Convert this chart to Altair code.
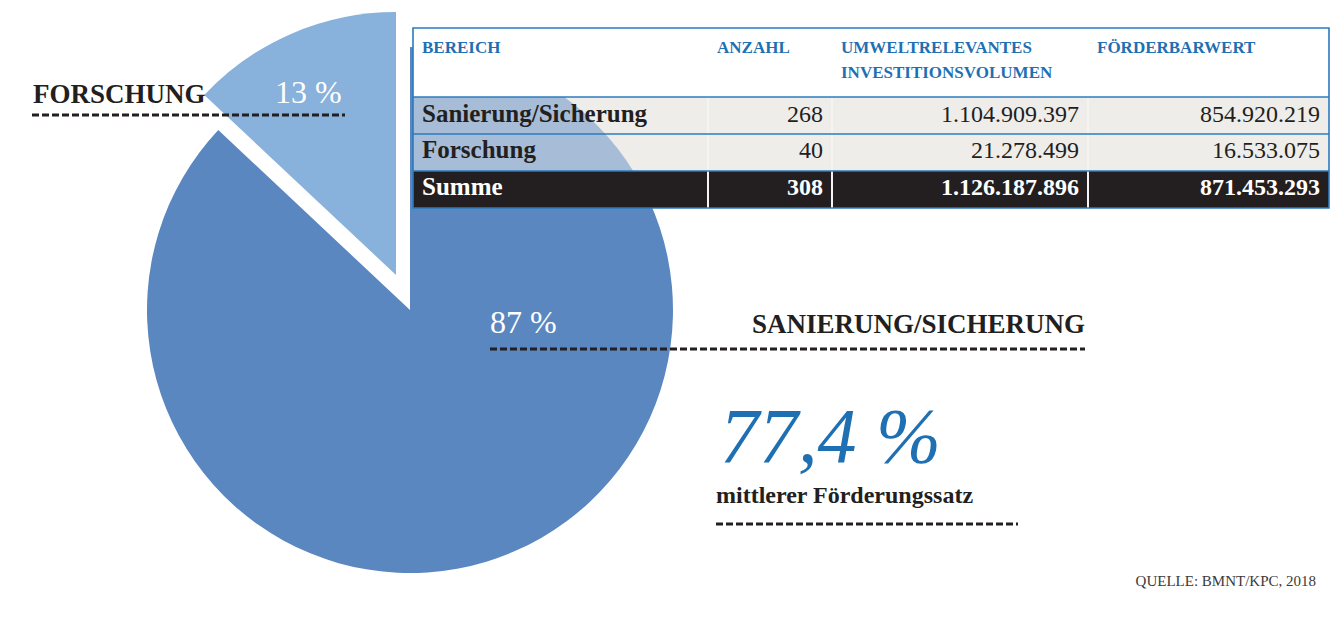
import math
import altair as alt
import pandas as pd

# ---------------- data ----------------
categories = ["Sanierung/Sicherung", "Forschung"]
shares = [87, 13]
anzahl = [268, 40]
investitionsvolumen = [1104909397, 21278499]
foerderbarwert = [854920219, 16533075]
summe_label = "Summe"
summe_values = [308, 1126187896, 871453293]
header_labels = ["BEREICH", "ANZAHL", "UMWELTRELEVANTES\nINVESTITIONSVOLUMEN", "FÖRDERBARWERT"]
share_labels = ["87 %", "13 %"]
kpi_text = "77,4 %"
kpi_caption = "mittlerer Förderungssatz"
source_text = "QUELLE: BMNT/KPC, 2018"

# ---------------- style / layout ----------------
W, H = 1322, 606
FONT = "Liberation Serif"
DARK = "#231F20"
BLUE = "#1F70B2"
BORDER = "#2B7BBE"
PIE_MAIN = "#5A87C0"
PIE_LIGHT = "#88B1DB"
ROW_GRAY = "#EEEDEA"

CX, CY, R = 402, 302, 263
EXPLODE = (-14, -35)

col_edges = [405, 700, 824, 1080, 1321]
row_edges = [20, 89, 126, 163, 200]
PAD = 9


def de(n):
    return f"{n:,}".replace(",", ".")


# ---------------- pie ----------------
pie_df = pd.DataFrame({"cat": categories, "share": shares})
pie_df["end"] = pie_df["share"].cumsum()
pie_df["start"] = pie_df["end"] - pie_df["share"]

theta_scale = alt.Scale(domain=[0, 100], range=[0, 2 * math.pi])
color_scale = alt.Scale(domain=categories, range=[PIE_MAIN, PIE_LIGHT])


def slice_layer(cat, dx, dy):
    return (
        alt.Chart(pie_df[pie_df["cat"] == cat])
        .mark_arc(outerRadius=R, strokeWidth=0)
        .encode(
            theta=alt.Theta("start:Q", scale=theta_scale),
            theta2="end:Q",
            color=alt.Color("cat:N", scale=color_scale, legend=None),
            x=alt.value(CX + dx),
            y=alt.value(CY + dy),
        )
    )


pie_main = slice_layer(categories[0], 0, 0)
pie_expl = slice_layer(categories[1], EXPLODE[0], EXPLODE[1])

# ---------------- table backgrounds ----------------
rows_bg = pd.DataFrame({
    "x": [col_edges[0]] * 2,
    "x2": [col_edges[-1]] * 2,
    "y": row_edges[1:3],
    "y2": row_edges[2:4],
})
XQ = lambda f: alt.X(f, type="quantitative", scale=None, axis=None)
YQ = lambda f: alt.Y(f, type="quantitative", scale=None, axis=None)

rows_under = alt.Chart(rows_bg).mark_rect(color=ROW_GRAY).encode(
    x=XQ("x"), x2="x2", y=YQ("y"), y2="y2")
rows_over = alt.Chart(rows_bg).mark_rect(color=ROW_GRAY, opacity=0.52).encode(
    x=XQ("x"), x2="x2", y=YQ("y"), y2="y2")

header_bg = alt.Chart(pd.DataFrame({"x": [col_edges[0]], "x2": [col_edges[-1]],
                                    "y": [row_edges[0]], "y2": [row_edges[1]]})).mark_rect(color="white").encode(
    x=XQ("x"), x2="x2", y=YQ("y"), y2="y2")
summe_bg = alt.Chart(pd.DataFrame({"x": [col_edges[0]], "x2": [col_edges[-1]],
                                   "y": [row_edges[3]], "y2": [row_edges[4]]})).mark_rect(color=DARK).encode(
    x=XQ("x"), x2="x2", y=YQ("y"), y2="y2")

vsep = pd.DataFrame({"x": col_edges[1:4], "y": [row_edges[1]] * 3, "y2": [row_edges[4]] * 3})
vlines = alt.Chart(vsep).mark_rule(color="#F4F4F2", strokeWidth=2).encode(
    x=XQ("x"), y=YQ("y"), y2="y2")

hsep = pd.DataFrame({"y": row_edges[1:4], "x": [col_edges[0]] * 3, "x2": [col_edges[-1]] * 3})
hlines = alt.Chart(hsep).mark_rule(color=BORDER, strokeWidth=1.5).encode(
    y=YQ("y"), x=XQ("x"), x2="x2")

border = alt.Chart(pd.DataFrame({"x": [col_edges[0]], "x2": [col_edges[-1]],
                                 "y": [row_edges[0]], "y2": [row_edges[-1]]})).mark_rect(
    fill="transparent", stroke=BORDER, strokeWidth=1.6).encode(
    x=XQ("x"), x2="x2", y=YQ("y"), y2="y2")

# ---------------- table texts ----------------
hdr_df = pd.DataFrame({"t": header_labels,
                       "x": [c + PAD for c in col_edges[:4]],
                       "y": [45] * 4})
hdr_text = alt.Chart(hdr_df).mark_text(
    align="left", baseline="alphabetic", font=FONT, fontSize=17, fontWeight="bold",
    color=BLUE, lineBreak="\n", lineHeight=25).encode(
    x=XQ("x"), y=YQ("y"), text="t:N")

row_baselines = [114, 150]
lab_df = pd.DataFrame({"t": categories, "x": [col_edges[0] + PAD] * 2, "y": row_baselines})
lab_text = alt.Chart(lab_df).mark_text(
    align="left", baseline="alphabetic", font=FONT, fontSize=25, fontWeight="bold", color=DARK).encode(
    x=XQ("x"), y=YQ("y"), text="t:N")

num_rows = []
for i in range(2):
    for j, v in enumerate([anzahl[i], investitionsvolumen[i], foerderbarwert[i]]):
        num_rows.append({"t": de(v), "x": col_edges[j + 2] - PAD, "y": row_baselines[i]})
num_text = alt.Chart(pd.DataFrame(num_rows)).mark_text(
    align="right", baseline="alphabetic", font=FONT, fontSize=24, color=DARK).encode(
    x=XQ("x"), y=YQ("y"), text="t:N")

sum_lab = alt.Chart(pd.DataFrame({"t": [summe_label], "x": [col_edges[0] + PAD], "y": [187]})).mark_text(
    align="left", baseline="alphabetic", font=FONT, fontSize=25, fontWeight="bold", color="white").encode(
    x=XQ("x"), y=YQ("y"), text="t:N")
sum_num = alt.Chart(pd.DataFrame({"t": [de(v) for v in summe_values],
                                  "x": [c - PAD for c in col_edges[2:]],
                                  "y": [187] * 3})).mark_text(
    align="right", baseline="alphabetic", font=FONT, fontSize=24, fontWeight="bold", color="white").encode(
    x=XQ("x"), y=YQ("y"), text="t:N")


# ---------------- annotations ----------------
def txt(s, x, y, **kw):
    return alt.Chart(pd.DataFrame({"t": [s]})).mark_text(
        baseline="alphabetic", font=FONT, **kw).encode(
        x=alt.value(x), y=alt.value(y), text="t:N")


def dash(x1, x2, y):
    return alt.Chart(pd.DataFrame({"k": [0]})).mark_rule(
        color=DARK, strokeWidth=3, strokeDash=[7, 3]).encode(
        x=alt.value(x1), x2=alt.value(x2), y=alt.value(y))


ann = [
    txt("FORSCHUNG", 25, 95, align="left", fontSize=27, fontWeight="bold", color=DARK),
    dash(24, 337, 107),
    txt(share_labels[1], 267, 95, align="left", fontSize=32, color="white"),
    txt(share_labels[0], 482, 325, align="left", fontSize=32, color="white"),
    txt("SANIERUNG/SICHERUNG", 1077, 325, align="right", fontSize=27, fontWeight="bold", color=DARK),
    dash(482, 1077, 341),
    txt(kpi_text, 712, 454, align="left", fontSize=78, fontStyle="italic", color=BLUE),
    txt(kpi_caption, 708, 495, align="left", fontSize=24, fontWeight="bold", color=DARK),
    dash(708, 1010, 516),
    txt(source_text, 1308, 578, align="right", fontSize=15, color="#3A3A3A"),
]

chart = alt.layer(
    rows_under, pie_main, pie_expl, rows_over, header_bg, summe_bg,
    vlines, hlines, border, hdr_text, lab_text, num_text, sum_lab, sum_num,
    *ann,
).properties(
    width=W, height=H, padding=0, autosize=alt.AutoSizeParams(type="none"),
    background="white",
).configure_view(strokeWidth=0)

chart.save("out.html", embed_options={"renderer": "svg", "actions": False})
